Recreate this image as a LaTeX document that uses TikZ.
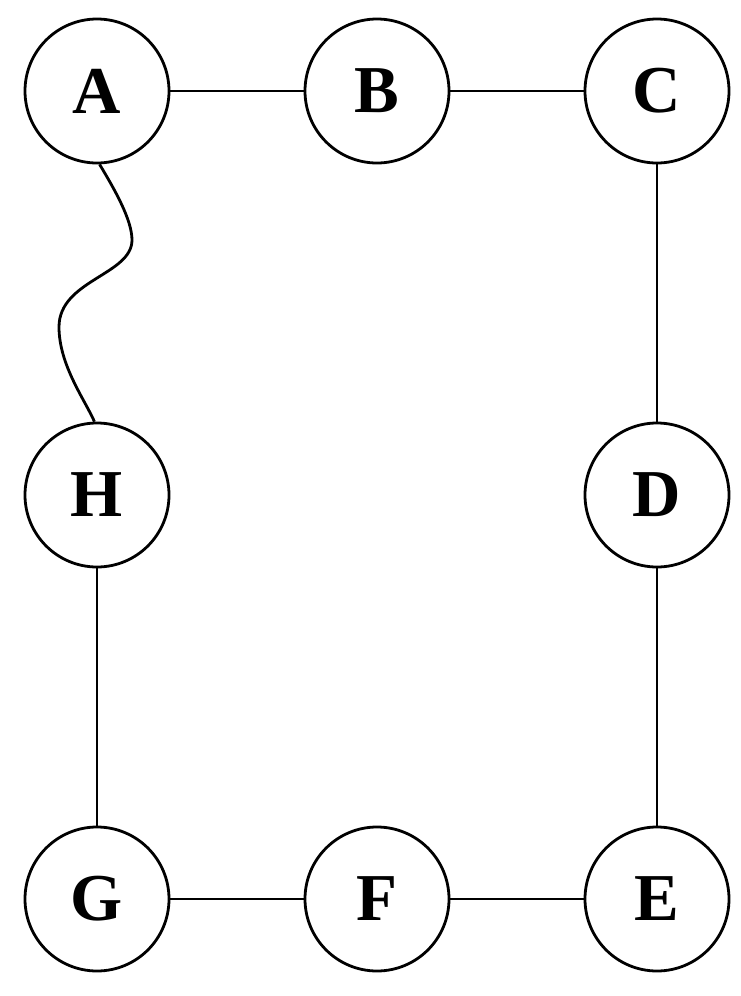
\documentclass[tikz,border=0pt]{standalone}
\usepackage{fontspec}
\setmainfont{Liberation Serif}
\begin{document}
\begin{tikzpicture}[x=1pt,y=-1pt,
  vtx/.style={circle,draw,line width=2.8pt,minimum size=144pt,inner sep=0pt,font=\fontsize{67}{67}\selectfont\bfseries},
  edge/.style={line width=2.8pt}]
\useasboundingbox (0,0) rectangle (740,996);
\node[vtx] (A) at (97,91) {A};
\node[vtx] (B) at (377,91) {B};
\node[vtx] (C) at (657,91) {C};
\node[vtx] (H) at (97,495) {H};
\node[vtx] (D) at (657,495) {D};
\node[vtx] (G) at (97,899) {G};
\node[vtx] (F) at (377,899) {F};
\node[vtx] (E) at (657,899) {E};
\draw[edge] (A) -- (B);
\draw[edge] (B) -- (C);
\draw[edge] (C) -- (D);
\draw[edge] (D) -- (E);
\draw[edge] (E) -- (F);
\draw[edge] (F) -- (G);
\draw[edge] (G) -- (H);
\coordinate (m1) at (132,240);
\coordinate (m2) at (59,327);
\draw[edge] (A.-88) .. controls (115,190) and (132,220) .. (m1)
  .. controls (132,275) and (59,280) .. (m2)
  .. controls (59,365) and (85,400) .. (H.92);
\end{tikzpicture}
\end{document}
